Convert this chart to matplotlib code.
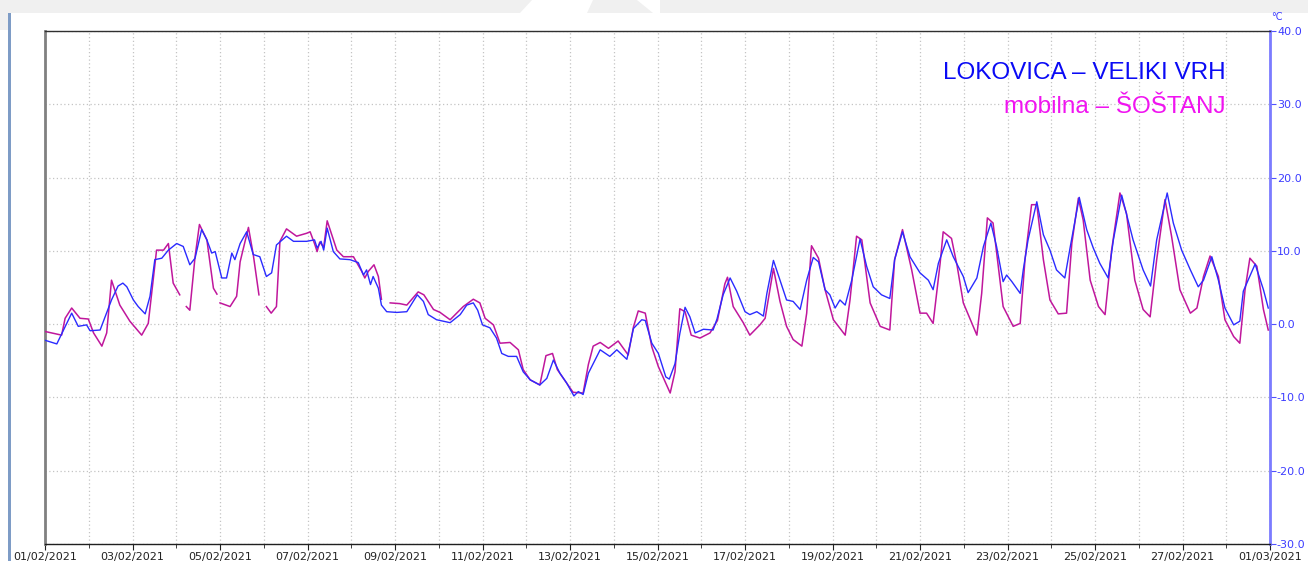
import matplotlib
matplotlib.use("Agg")
import matplotlib.pyplot as plt
import matplotlib.dates as mdates
from matplotlib.patches import Rectangle, Polygon
import numpy as np
import pandas as pd

# readings: day offset from 01/02/2021 00:00 and temperature (°C)
lok_day = [0.0, 0.27, 0.61, 0.76, 0.95, 1.03, 1.26, 1.52, 1.67, 1.78, 1.87, 2.02, 2.13, 2.29, 2.40,
           2.51, 2.67, 2.82, 3.01, 3.16, 3.31, 3.43, 3.58, 3.70, 3.81, 3.89, 4.04, 4.15, 4.27, 4.34,
           4.46, 4.61, 4.76, 4.91, 5.06, 5.18, 5.29, 5.52, 5.68, 5.98, 6.16, 6.22, 6.31, 6.37, 6.45,
           6.59, 6.74, 6.97, 7.16, 7.28, 7.35, 7.44, 7.50, 7.62, 7.69, 7.81, 8.04, 8.27, 8.51, 8.65,
           8.76, 8.95, 9.26, 9.49, 9.64, 9.79, 9.89, 10.00, 10.17, 10.32, 10.44, 10.59, 10.78, 10.93,
           11.09, 11.31, 11.47, 11.62, 11.77, 11.92, 12.09, 12.19, 12.30, 12.42, 12.69, 12.91, 13.07,
           13.30, 13.45, 13.64, 13.72, 13.87, 14.02, 14.19, 14.27, 14.40, 14.51, 14.63, 14.74, 14.86,
           15.05, 15.27, 15.36, 15.50, 15.66, 15.81, 16.00, 16.11, 16.27, 16.42, 16.50, 16.65, 16.80,
           16.95, 17.10, 17.26, 17.41, 17.56, 17.68, 17.83, 17.94, 18.06, 18.17, 18.29, 18.44, 18.63,
           18.78, 18.93, 19.12, 19.31, 19.42, 19.60, 19.77, 20.00, 20.19, 20.30, 20.42, 20.61, 20.76,
           20.99, 21.10, 21.30, 21.45, 21.62, 21.75, 21.90, 21.98, 22.10, 22.29, 22.36, 22.47, 22.67,
           22.82, 22.97, 23.12, 23.31, 23.43, 23.64, 23.81, 23.96, 24.11, 24.30, 24.42, 24.61, 24.87,
           25.10, 25.27, 25.41, 25.65, 25.79, 25.98, 26.18, 26.36, 26.48, 26.67, 26.82, 26.97, 27.17,
           27.31, 27.39, 27.66, 27.85, 27.96]
lok_temp = [-2.2, -2.7, 1.5, -0.3, -0.1, -0.9, -0.8, 3.3, 5.2, 5.6, 5.1, 3.3, 2.4, 1.4, 3.8,
            8.8, 9.0, 10.1, 11.0, 10.6, 8.1, 9.0, 12.9, 11.5, 9.7, 9.9, 6.3, 6.3, 9.7, 8.8,
            11.0, 12.6, 9.5, 9.2, 6.5, 7.0, 10.8, 12.0, 11.3, 11.3, 11.5, 10.4, 11.3, 10.1, 13.1,
            9.9, 8.9, 8.8, 8.4, 6.7, 7.4, 5.4, 6.5, 4.9, 2.6, 1.7, 1.6, 1.7, 4.0, 3.1,
            1.3, 0.6, 0.2, 1.3, 2.6, 2.9, 1.9, -0.1, -0.5, -1.9, -4.0, -4.4, -4.4, -6.5,
            -7.6, -8.3, -7.4, -4.9, -6.7, -8.0, -9.8, -9.2, -9.6, -6.7, -3.5, -4.4, -3.5,
            -4.8, -0.6, 0.6, 0.5, -2.6, -4.0, -7.2, -7.5, -5.4, -1.3, 2.3, 1.0, -1.2,
            -0.7, -0.8, 0.7, 4.0, 6.3, 4.5, 1.7, 1.3, 1.7, 1.1, 4.2, 8.7, 6.0,
            3.3, 3.1, 2.0, 6.0, 9.1, 8.5, 4.7, 4.0, 2.2, 3.3, 2.6, 6.0, 11.6,
            7.9, 5.1, 4.0, 3.5, 8.8, 12.6, 9.2, 7.0, 6.0, 4.7, 8.3, 11.5, 9.2,
            6.5, 4.3, 6.3, 10.6, 13.8, 10.6, 5.8, 6.7, 5.8, 4.2, 7.4, 11.5, 16.7,
            12.2, 10.1, 7.4, 6.3, 10.4, 17.3, 12.9, 10.4, 8.3, 6.3, 11.5, 17.6, 11.5,
            7.4, 5.2, 11.5, 17.9, 13.8, 10.1, 7.4, 5.1, 6.0, 9.2, 6.0, 2.2, -0.1,
            0.4, 4.5, 8.2, 4.7, 2.2]

mob_day = [0.0, 0.38, 0.46, 0.61, 0.80, 0.99, 1.11, 1.30, 1.41, 1.52, 1.71, 1.94, 2.21, 2.36, 2.55,
           2.71, 2.82, 2.93, 3.08, 3.15, 3.23, 3.31, 3.43, 3.53, 3.70, 3.85, 3.93, 3.96, 4.00, 4.23,
           4.38, 4.46, 4.65, 4.76, 4.89, 4.97, 5.06, 5.17, 5.29, 5.37, 5.52, 5.75, 5.98, 6.06, 6.16,
           6.22, 6.28, 6.37, 6.45, 6.67, 6.82, 7.05, 7.24, 7.31, 7.39, 7.52, 7.62, 7.69, 7.79, 7.89,
           8.11, 8.27, 8.53, 8.66, 8.88, 9.03, 9.26, 9.56, 9.79, 9.94, 10.06, 10.25, 10.40, 10.63,
           10.82, 10.93, 11.09, 11.31, 11.45, 11.60, 11.71, 11.92, 12.07, 12.30, 12.42, 12.53, 12.69,
           12.88, 13.10, 13.33, 13.45, 13.56, 13.72, 13.87, 14.02, 14.29, 14.40, 14.51, 14.63, 14.77,
           14.97, 15.20, 15.37, 15.54, 15.60, 15.73, 15.96, 16.11, 16.34, 16.46, 16.65, 16.80, 16.95,
           17.10, 17.30, 17.41, 17.52, 17.68, 17.83, 18.02, 18.29, 18.40, 18.55, 18.67, 18.86, 19.09,
           19.31, 19.42, 19.60, 19.81, 20.00, 20.15, 20.30, 20.46, 20.53, 20.72, 20.85, 20.99, 21.30,
           21.41, 21.54, 21.67, 21.90, 22.13, 22.29, 22.40, 22.55, 22.67, 22.82, 22.97, 23.16, 23.35,
           23.47, 23.62, 23.73, 23.89, 24.08, 24.23, 24.38, 24.57, 24.72, 24.91, 25.10, 25.26, 25.41,
           25.60, 25.75, 25.94, 26.18, 26.33, 26.48, 26.63, 26.82, 26.97, 27.17, 27.31, 27.43, 27.54,
           27.70, 27.85, 27.96]
mob_temp = [-1.0, -1.5, 0.8, 2.2, 0.8, 0.7, -1.2, -3.0, -1.2, 6.0, 2.6, 0.4, -1.5, 0.1, 10.1,
            10.1, 11.0, 5.6, 4.0, np.nan, 2.4, 1.9, 9.2, 13.6, 11.5, 4.9, 4.1, np.nan, 2.9, 2.4,
            3.8, 8.5, 13.2, 9.5, 4.0, np.nan, 2.4, 1.5, 2.4, 11.3, 13.0, 12.0, 12.4, 12.6, 11.0,
            9.9, 11.2, 10.5, 14.1, 10.1, 9.2, 9.2, 7.2, 6.3, 7.2, 8.1, 6.5, 3.4, np.nan, 2.9,
            2.8, 2.6, 4.4, 4.0, 2.0, 1.6, 0.6, 2.4, 3.4, 2.9, 0.8, -0.1, -2.6, -2.5,
            -3.5, -6.2, -7.6, -8.3, -4.3, -4.0, -6.2, -8.0, -9.3, -9.4, -5.5, -3.0, -2.5,
            -3.3, -2.3, -4.2, -0.4, 1.8, 1.5, -3.1, -5.8, -9.4, -6.5, 2.1, 1.7, -1.5,
            -1.9, -1.2, 0.5, 5.5, 6.4, 2.4, 0.2, -1.5, -0.1, 0.8, 7.6, 3.1, -0.3,
            -2.1, -3.0, 1.5, 10.7, 9.0, 4.7, 0.6, -1.5, 3.3, 12.0, 11.5, 2.9, -0.3,
            -0.8, 8.8, 12.9, 7.4, 1.5, 1.5, 0.1, 8.3, 12.6, 11.7, 7.9, 2.9, -1.5,
            4.2, 14.5, 13.8, 2.4, -0.3, 0.1, 8.8, 16.3, 16.3, 8.8, 3.3, 1.4, 1.5,
            11.0, 17.2, 14.2, 6.0, 2.4, 1.3, 10.1, 17.9, 15.1, 6.0, 2.0, 1.0, 8.8,
            17.0, 12.0, 4.7, 1.5, 2.2, 6.5, 9.3, 6.5, 0.6, -1.7, -2.6, 4.7, 9.0,
            7.9, 2.0, -0.8]

lok_name = "LOKOVICA – VELIKI VRH"
mob_name = "mobilna – ŠOŠTANJ"
y_ticks = [-30, -20, -10, 0, 10, 20, 30, 40]

plt.rcParams["axes.unicode_minus"] = False
plt.rcParams["font.family"] = ["DejaVu Sans"]

W, H = 1308, 561
fig = plt.figure(figsize=(W / 100, H / 100), dpi=100)
fig.patch.set_facecolor("white")


def px(x, y):
    # screen pixel (from top-left) -> figure fraction
    return x / W, 1 - y / H


# screenshot chrome: grey band on top, blue bar on the left
fig.add_artist(Rectangle(px(0, 13), 1, 13 / H, transform=fig.transFigure,
                         color="#f0f0f0", lw=0, zorder=0))
fig.add_artist(Polygon([px(532, 0), px(593, 0), px(587, 13), px(520, 13)],
                       transform=fig.transFigure, color="white", lw=0, zorder=0))
fig.add_artist(Polygon([px(637, 0), px(660, 0), px(660, 13), px(653, 13)],
                       transform=fig.transFigure, color="white", lw=0, zorder=0))
fig.add_artist(Rectangle(px(0, 30), 8 / W, 17 / H, transform=fig.transFigure,
                         color="#f0f0f0", lw=0, zorder=0))
fig.add_artist(Rectangle(px(8, H), 3 / W, (H - 13) / H, transform=fig.transFigure,
                         color="#7e9cc6", lw=0, zorder=0))

left, right, top, bottom = 45, 1270, 31, 544
ax = fig.add_axes([left / W, (H - bottom) / H, (right - left) / W, (bottom - top) / H])

t0 = pd.Timestamp("2021-02-01")
lok_x = t0 + pd.to_timedelta(lok_day, unit="D")
mob_x = t0 + pd.to_timedelta(mob_day, unit="D")

ax.plot(mob_x, mob_temp, color="#c0179c", lw=1.1, zorder=3)
ax.plot(lok_x, lok_temp, color="#2b2bff", lw=1.0, zorder=4)

ax.set_xlim(t0, pd.Timestamp("2021-03-01"))
ax.set_ylim(-30, 40)

ax.xaxis.set_major_locator(mdates.DayLocator(bymonthday=range(1, 32, 2)))
ax.xaxis.set_minor_locator(mdates.DayLocator())
ax.xaxis.set_major_formatter(mdates.DateFormatter("%d/%m/%Y"))
ax.tick_params(axis="x", which="major", length=4, color="#202020", labelsize=8,
               labelcolor="#222222", pad=2)
ax.tick_params(axis="x", which="minor", length=3, color="#202020")

ax.yaxis.tick_right()
ax.set_yticks(y_ticks)
ax.set_yticklabels([f"{v:.1f}" for v in y_ticks])
ax.tick_params(axis="y", length=4, color="#5050ff", labelcolor="#3c3cff",
               labelsize=8, pad=1)

grid_kw = dict(color="#c4c4c4", linestyle=(0, (1, 2)), lw=0.9)
ax.grid(True, axis="x", which="both", **grid_kw)
ax.grid(True, axis="y", which="major", **grid_kw)
ax.set_axisbelow(True)

ax.spines["left"].set_color("#808080")
ax.spines["left"].set_linewidth(2)
ax.spines["top"].set_color("#303030")
ax.spines["top"].set_linewidth(1)
ax.spines["bottom"].set_color("#202020")
ax.spines["bottom"].set_linewidth(1)
ax.spines["right"].set_color("#7b7bff")
ax.spines["right"].set_linewidth(2)

ax.text(0.964, 0.906, lok_name, transform=ax.transAxes, ha="right", va="baseline",
        fontsize=17.5, color="#0a0af5", family=["Liberation Sans", "DejaVu Sans"])
ax.text(0.964, 0.840, mob_name, transform=ax.transAxes, ha="right", va="baseline",
        fontsize=17.5, color="#f014f0", family=["Liberation Sans", "DejaVu Sans"])

fig.text(*px(1271, 17), "°C", ha="left", va="center", fontsize=7, color="#3c3cff")

fig.savefig("out.png", dpi=100, facecolor=fig.get_facecolor())
